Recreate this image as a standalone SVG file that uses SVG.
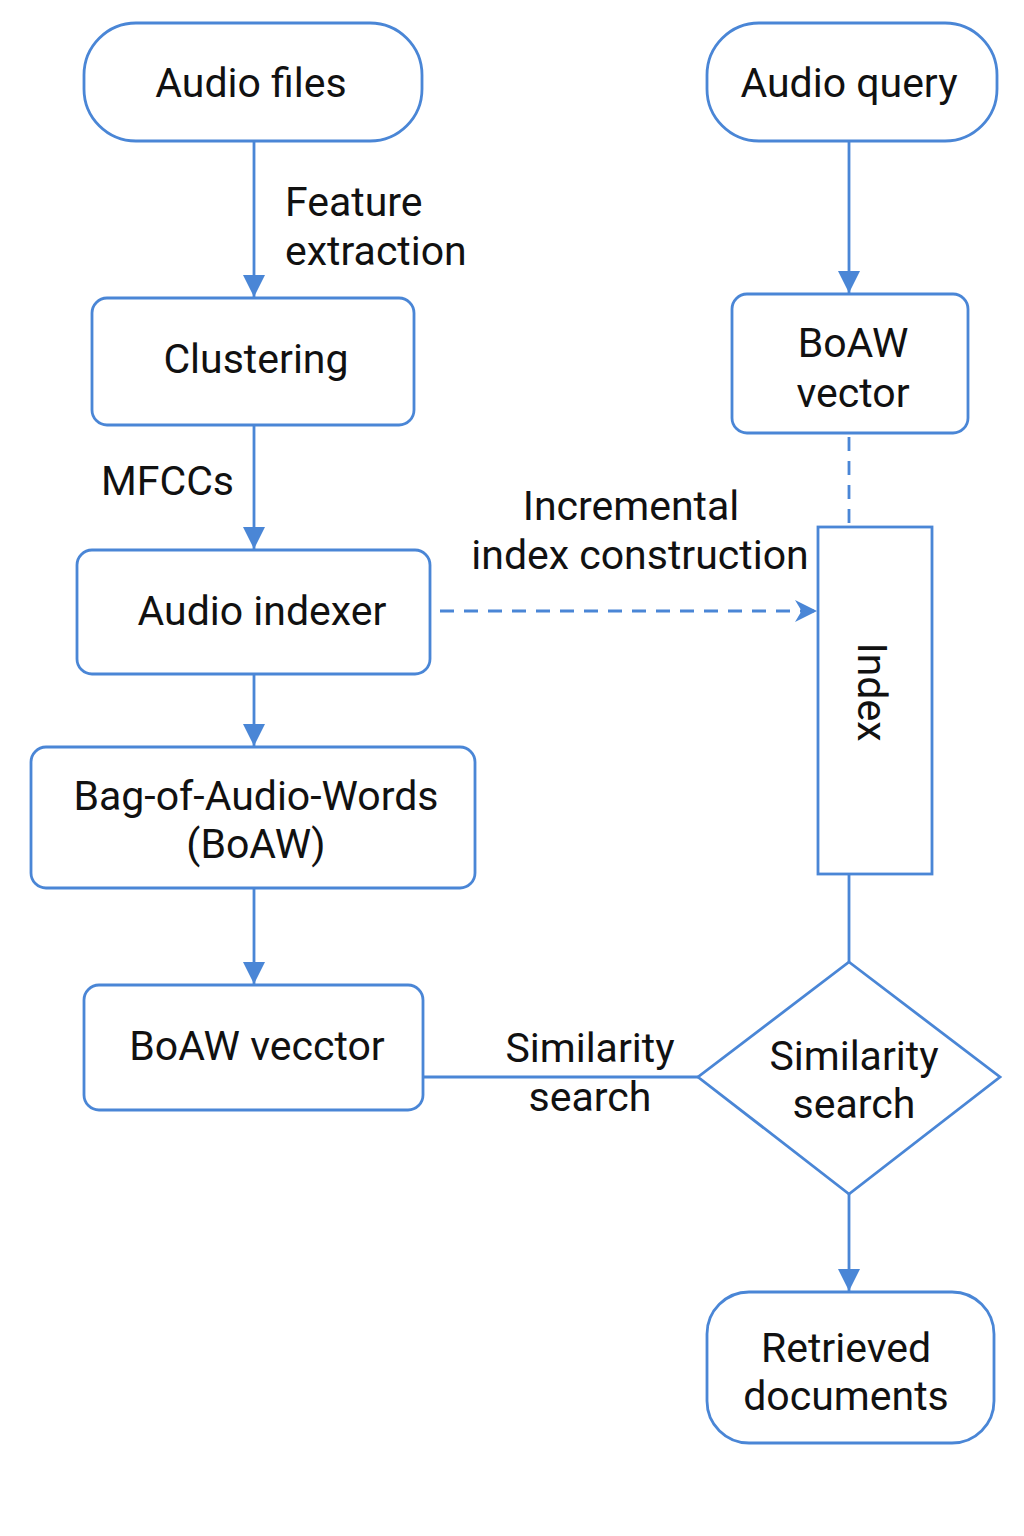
<svg xmlns="http://www.w3.org/2000/svg" width="1024" height="1536" viewBox="0 0 1024 1536">
<style>
.n{fill:#fff;stroke:#4A86D6;stroke-width:2.8}
.c{fill:none;stroke:#4A86D6;stroke-width:2.8}
.d{stroke-dasharray:14 10}
text{font-family:Roboto,"Noto Sans",sans-serif;font-size:41px;fill:#111}
.m{text-anchor:middle}
</style>
<defs>
<marker id="ah2" viewBox="0 0 10 10" refX="10" refY="5" markerWidth="22" markerHeight="22" markerUnits="userSpaceOnUse" orient="auto">
<path d="M0,0 L10,5 L0,10 L3,5 z" fill="#4A86D6"/>
</marker>
<marker id="ah3" viewBox="0 0 10 10" refX="10" refY="5" markerWidth="22" markerHeight="22" markerUnits="userSpaceOnUse" orient="auto">
<path d="M0,0 L10,5 L0,10 z" fill="#4A86D6"/>
</marker>
</defs>
<g id="connectors">
<line class="c" x1="254" y1="141" x2="254" y2="297" marker-end="url(#ah3)"/>
<line class="c" x1="254" y1="425" x2="254" y2="549" marker-end="url(#ah3)"/>
<line class="c" x1="254" y1="674" x2="254" y2="746" marker-end="url(#ah3)"/>
<line class="c" x1="254" y1="888" x2="254" y2="984" marker-end="url(#ah3)"/>
<line class="c" x1="849" y1="141" x2="849" y2="293" marker-end="url(#ah3)"/>
<line class="c d" x1="849" y1="437" x2="849" y2="527"/>
<line class="c d" x1="440" y1="611" x2="817" y2="611" marker-end="url(#ah2)"/>
<line class="c" x1="849" y1="874" x2="849" y2="962"/>
<line class="c" x1="423" y1="1077" x2="698" y2="1077"/>
<line class="c" x1="849" y1="1194" x2="849" y2="1291" marker-end="url(#ah3)"/>
<text x="285" y="216">Feature</text>
<text x="285" y="265">extraction</text>
<text x="101" y="495">MFCCs</text>
<text class="m" x="631" y="520">Incremental</text>
<text class="m" x="640" y="569">index construction</text>
<text class="m" x="590" y="1062">Similarity</text>
<text class="m" x="590" y="1111">search</text>
</g>
<g id="audio-files">
<rect class="n" x="84" y="23" width="338" height="118" rx="52"/>
<text class="m" x="251" y="97">Audio files</text>
</g>
<g id="audio-query">
<rect class="n" x="707" y="23" width="290" height="118" rx="52"/>
<text class="m" x="849" y="97">Audio query</text>
</g>
<g id="clustering">
<rect class="n" x="92" y="298" width="322" height="127" rx="15"/>
<text class="m" x="256" y="373">Clustering</text>
</g>
<g id="audio-indexer">
<rect class="n" x="77" y="550" width="353" height="124" rx="15"/>
<text class="m" x="262" y="625">Audio indexer</text>
</g>
<g id="boaw">
<rect class="n" x="31" y="747" width="444" height="141" rx="15"/>
<text class="m" x="256" y="810">Bag-of-Audio-Words</text>
<text class="m" x="256" y="858">(BoAW)</text>
</g>
<g id="boaw-vecctor">
<rect class="n" x="84" y="985" width="339" height="125" rx="15"/>
<text class="m" x="257" y="1060">BoAW vecctor</text>
</g>
<g id="boaw-vector">
<rect class="n" x="732" y="294" width="236" height="139" rx="15"/>
<text class="m" x="853" y="357">BoAW</text>
<text class="m" x="853" y="407">vector</text>
</g>
<g id="index">
<rect class="n" x="818" y="527" width="114" height="347"/>
<text class="m" transform="translate(858 692) rotate(90)" x="0" y="0">Index</text>
</g>
<g id="similarity-search">
<polygon class="n" points="849,962 1000,1077 849,1194 698,1077"/>
<text class="m" x="854" y="1070">Similarity</text>
<text class="m" x="854" y="1118">search</text>
</g>
<g id="retrieved-documents">
<rect class="n" x="707" y="1292" width="287" height="151" rx="42"/>
<text class="m" x="846" y="1362">Retrieved</text>
<text class="m" x="846" y="1410">documents</text>
</g>
</svg>
